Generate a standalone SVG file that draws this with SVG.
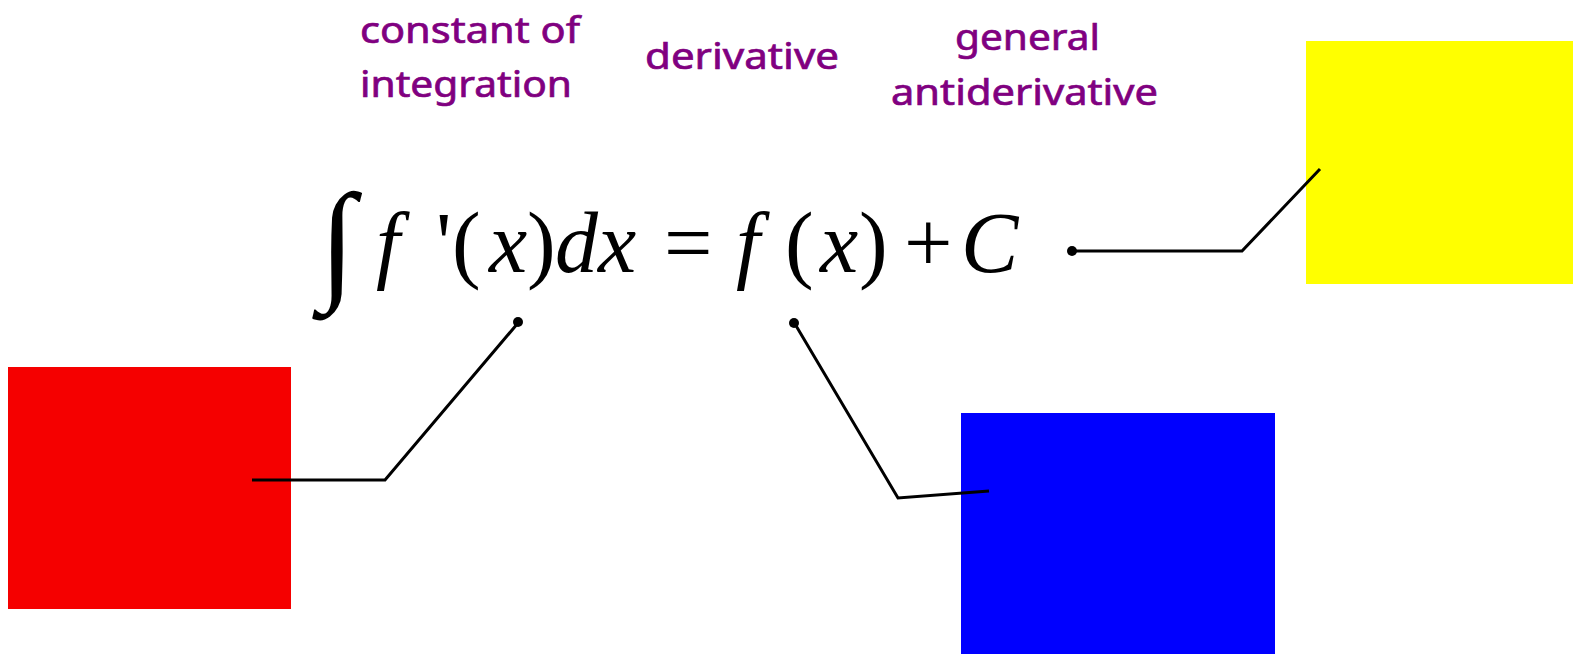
<svg xmlns="http://www.w3.org/2000/svg" width="1573" height="654" viewBox="0 0 1573 654">
<style>
.lbl{font-family:"Noto Sans",sans-serif;font-size:37px;fill:#800080;stroke:#800080;stroke-width:0.7}
.m{font-family:"Liberation Serif","Times New Roman",serif;font-size:86px;fill:#000}
.i{font-style:italic}
.conn{fill:none;stroke:#000;stroke-width:3;stroke-linejoin:miter}
.dot{fill:#000}
</style>
<rect width="1573" height="654" fill="#fff"/>
<g id="label-constant">
<text class="lbl" x="360" y="43" textLength="220" lengthAdjust="spacingAndGlyphs">constant of</text>
<text class="lbl" x="360" y="97" textLength="212" lengthAdjust="spacingAndGlyphs">integration</text>
</g>
<g id="label-derivative">
<text class="lbl" x="645" y="69" textLength="194" lengthAdjust="spacingAndGlyphs">derivative</text>
</g>
<g id="label-general">
<text class="lbl" x="955" y="50" textLength="145" lengthAdjust="spacingAndGlyphs">general</text>
<text class="lbl" x="891" y="105" textLength="267" lengthAdjust="spacingAndGlyphs">antiderivative</text>
</g>
<g id="formula">
<text class="m" x="319" y="285" style="font-size:132px">∫</text>
<text class="m i" x="376" y="272">f</text>
<text class="m" x="436" y="272">'</text>
<text class="m" x="452" y="272">(</text>
<text class="m i" x="489" y="272">x</text>
<text class="m" x="527" y="272">)</text>
<text class="m i" x="555" y="272">d</text>
<text class="m i" x="598" y="272">x</text>
<text class="m" x="664" y="272">=</text>
<text class="m i" x="736" y="272">f</text>
<text class="m" x="785" y="272">(</text>
<text class="m i" x="820" y="272">x</text>
<text class="m" x="859" y="272">)</text>
<text class="m" x="904" y="272">+</text>
<text class="m i" x="961" y="272">C</text>
</g>
<g id="box-red"><rect x="8" y="367" width="283" height="242" fill="#f50000"/></g>
<g id="box-blue"><rect x="961" y="413" width="314" height="241" fill="#0000ff"/></g>
<g id="box-yellow"><rect x="1306" y="41" width="267" height="243" fill="#ffff00"/></g>
<g id="connectors">
<polyline class="conn" points="252,480 385,480 518,323"/>
<circle class="dot" cx="518" cy="322" r="5"/>
<polyline class="conn" points="795,324 898,498 989,491"/>
<circle class="dot" cx="794" cy="323" r="5"/>
<polyline class="conn" points="1073,251 1242,251 1320,169"/>
<circle class="dot" cx="1072" cy="251" r="5"/>
</g>
</svg>
